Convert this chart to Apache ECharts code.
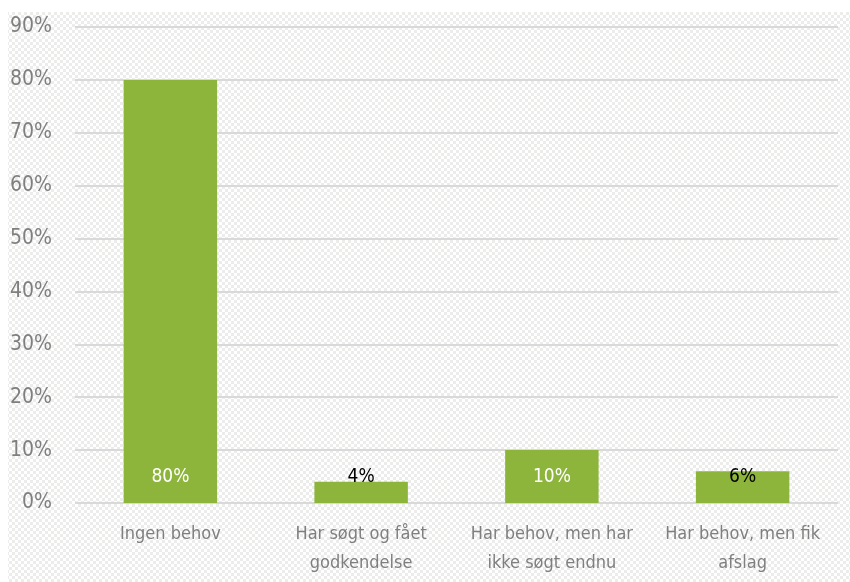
<!DOCTYPE html>
<html>
<head>
<meta charset="utf-8">
<script src="https://cdn.jsdelivr.net/npm/echarts@6/dist/echarts.min.js"></script>
<style>
  html, body { margin: 0; padding: 0; background: #ffffff; }
  #chart { width: 850px; height: 582px; }
</style>
</head>
<body>
<div id="chart"></div>
<script>
// Survey answers: share of respondents per answer
const categories = [
  'Ingen behov',
  'Har søgt og fået\ngodkendelse',
  'Har behov, men har\nikke søgt endnu',
  'Har behov, men fik\nafslag'
];
const shares = [80, 4, 10, 6];
const labelColors = ['#ffffff', '#000000', '#ffffff', '#000000'];
const yTicks = { min: 0, max: 90, step: 10 };

const FONT = '"DejaVu Sans Condensed", "Liberation Sans Narrow", sans-serif';
const GRAY = '#7f7f7f';
const GREEN = '#8db53c';

// Small checker tile used as the chart area's background texture
function checkerTile() {
  const c = document.createElement('canvas');
  c.width = 6; c.height = 6;
  const g = c.getContext('2d');
  g.fillStyle = '#ffffff';
  g.fillRect(0, 0, 6, 6);
  g.fillStyle = '#ececea';
  g.fillRect(0, 0, 3, 3);
  g.fillRect(3, 3, 3, 3);
  return c;
}

const chart = echarts.init(document.getElementById('chart'), null, { renderer: 'canvas' });

chart.setOption({
  animation: false,
  backgroundColor: '#ffffff',
  graphic: [{
    type: 'rect',
    z: -10,
    silent: true,
    shape: { x: 8, y: 12, width: 842, height: 570 },
    style: { fill: { image: checkerTile(), repeat: 'repeat' } }
  }],
  grid: { left: 75, right: 12, top: 27, bottom: 79, containLabel: false },
  xAxis: {
    type: 'category',
    data: categories,
    axisLine: { show: false },
    axisTick: { show: false },
    axisLabel: {
      color: GRAY,
      fontFamily: FONT,
      fontSize: 18,
      lineHeight: 29,
      margin: 17,
      interval: 0
    }
  },
  yAxis: {
    type: 'value',
    min: yTicks.min,
    max: yTicks.max,
    interval: yTicks.step,
    axisLine: { show: false },
    axisTick: { show: false },
    axisLabel: {
      formatter: '{value}%',
      color: GRAY,
      fontFamily: FONT,
      fontSize: 21,
      margin: 23
    },
    splitLine: { lineStyle: { color: '#d9d9d9', width: 2 } }
  },
  series: [{
    type: 'bar',
    barWidth: '49%',
    itemStyle: { color: GREEN },
    data: shares.map((v, i) => ({
      value: v,
      label: { color: labelColors[i] }
    })),
    label: {
      show: true,
      position: 'insideBottom',
      distance: 16,
      formatter: '{c}%',
      fontFamily: FONT,
      fontSize: 19
    }
  }]
});
</script>
</body>
</html>
